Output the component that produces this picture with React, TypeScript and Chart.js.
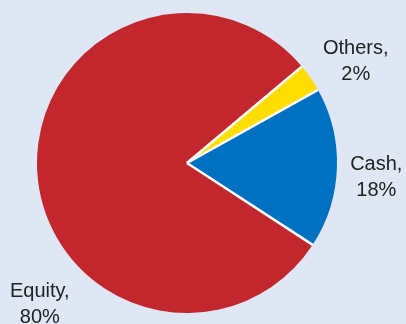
import React, { useEffect, useRef } from "react";
import { Chart, registerables } from "chart.js";

Chart.register(...registerables);

const categories = ["Others", "Cash", "Equity"];
const values = [3.0, 17.3, 79.7];
const labelLines = [
  ["Others,", "2%"],
  ["Cash,", "18%"],
  ["Equity,", "80%"],
];
const colors = ["#ffdd00", "#0070c0", "#c1272d"];
// label anchor: angle (deg clockwise from top) and distance in radii
const labelAngles = [60.3, 96.1, 225.1];
const labelDistances = [1.295, 1.269, 1.385];

const separatorPlugin = {
  id: "separators",
  afterDatasetsDraw(chart: any) {
    const meta = chart.getDatasetMeta(0);
    const ctx = chart.ctx;
    ctx.save();
    ctx.strokeStyle = "#ffffff";
    ctx.lineWidth = 2.5;
    ctx.lineCap = "butt";
    meta.data.forEach((arc: any) => {
      const { x, y, startAngle, outerRadius } = arc.getProps(
        ["x", "y", "startAngle", "outerRadius"],
        true
      );
      ctx.beginPath();
      ctx.moveTo(x, y);
      ctx.lineTo(x + Math.cos(startAngle) * outerRadius, y + Math.sin(startAngle) * outerRadius);
      ctx.stroke();
    });
    ctx.restore();
  },
};

const labelPlugin = {
  id: "outerLabels",
  afterDraw(chart: any) {
    const meta = chart.getDatasetMeta(0);
    const arc0 = meta.data[0];
    if (!arc0) return;
    const { x, y, outerRadius } = arc0.getProps(["x", "y", "outerRadius"], true);
    const ctx = chart.ctx;
    ctx.save();
    ctx.fillStyle = "#222222";
    ctx.font = '20px "Liberation Sans", Arial, sans-serif';
    ctx.textAlign = "center";
    ctx.textBaseline = "alphabetic";
    labelLines.forEach((lines, i) => {
      const a = (labelAngles[i] * Math.PI) / 180;
      const d = labelDistances[i] * outerRadius;
      const ax = x + Math.sin(a) * d;
      const ay = y - Math.cos(a) * d;
      ctx.fillText(lines[0], ax, ay - 13);
      ctx.fillText(lines[1], ax, ay + 13);
    });
    ctx.restore();
  },
};

export default function App() {
  const ref = useRef<HTMLCanvasElement | null>(null);
  useEffect(() => {
    if (!ref.current) return;
    const chart = new Chart(ref.current, {
      type: "pie",
      data: {
        labels: categories,
        datasets: [
          {
            data: values,
            backgroundColor: colors,
            borderWidth: 0,
          },
        ],
      },
      options: {
        responsive: false,
        animation: false,
        events: [],
        rotation: 50,
        layout: { padding: { left: 37, right: 69, top: 13, bottom: 11 } },
        plugins: {
          legend: { display: false },
          tooltip: { enabled: false },
        },
      },
      plugins: [separatorPlugin, labelPlugin],
    });
    return () => chart.destroy();
  }, []);
  return (
    <div
      style={{
        position: "absolute",
        left: 0,
        top: 0,
        width: 406,
        height: 324,
        background: "#dfe6f4",
        overflow: "hidden",
      }}
    >
      <canvas ref={ref} width={406} height={324} style={{ display: "block" }} />
    </div>
  );
}
